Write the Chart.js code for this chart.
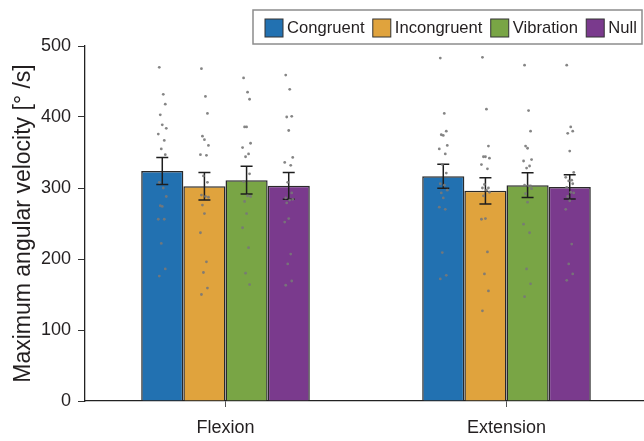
<!DOCTYPE html>
<html>
<head>
<meta charset="utf-8">
<script src="https://cdn.jsdelivr.net/npm/chart.js@4.4.1/dist/chart.umd.min.js"></script>
<style>
  html, body { margin: 0; padding: 0; background: #fff; overflow: hidden; }
  #wrap { position: relative; width: 648px; height: 441px; }
</style>
</head>
<body>
<div id="wrap"><canvas id="chart"></canvas></div>
<script>
// Movement directions on the x axis
const categories = ['Flexion', 'Extension'];
// Stimulation conditions
const conditions = ['Congruent', 'Incongruent', 'Vibration', 'Null'];

// Mean maximum angular velocity [°/s] per direction (Flexion, Extension)
const congruentMean   = [324, 316.5];
const incongruentMean = [302.5, 296];
const vibrationMean   = [311, 304];
const nullMean        = [303, 301.5];

// Standard error per direction
const congruentErr   = [19, 17];
const incongruentErr = [19.5, 18.5];
const vibrationErr   = [19.5, 17.5];
const nullErr        = [19, 17];

// Individual participants' values
const congruentFlexion = [470, 432, 418, 403, 389, 384, 376, 367, 355, 347, 308, 300, 288, 275, 274, 256, 256, 222, 186, 176];
const incongruentFlexion = [468, 429, 405, 373, 368, 360, 347, 346, 317, 308, 290, 288, 287, 276, 264, 237, 196, 181, 159, 150];
const vibrationFlexion = [455, 435, 425, 386, 386, 363, 357, 348, 344, 320, 309, 289, 288, 281, 264, 244, 216, 180, 164];
const nullFlexion = [459, 439, 401, 400, 381, 343, 336, 332, 308, 293, 286, 283, 284, 279, 257, 252, 207, 193, 169, 163];

const congruentExtension = [483, 405, 380, 375, 374, 360, 355, 348, 333, 321, 306, 304, 297, 293, 286, 273, 270, 209, 177, 172];
const incongruentExtension = [484, 411, 359, 344, 344, 342, 333, 327, 305, 300, 300, 297, 294, 289, 257, 256, 210, 179, 155, 127];
const vibrationExtension = [473, 409, 380, 359, 356, 340, 338, 331, 328, 303, 304, 303, 299, 292, 280, 249, 237, 186, 165, 147];
const nullExtension = [473, 386, 380, 377, 352, 322, 315, 311, 310, 306, 301, 294, 293, 288, 282, 270, 221, 193, 179, 170];

const seriesMeans = [congruentMean, incongruentMean, vibrationMean, nullMean];
const seriesErrs  = [congruentErr, incongruentErr, vibrationErr, nullErr];
const seriesPoints = [
  [congruentFlexion, congruentExtension],
  [incongruentFlexion, incongruentExtension],
  [vibrationFlexion, vibrationExtension],
  [nullFlexion, nullExtension]
];

const colors = ['#2271b1', '#e0a33d', '#79a545', '#7a3a8d'];
const FONT = '"Liberation Sans", Arial, sans-serif';
const TEXT = '#231f20';

// fixed horizontal spread (px) of the participant dots around a bar centre
const spread = [-3, 1, 3, -2, 0, 4, -4, 2, -1, 3, -3, 1, 4, -2, 0, -4, 2, -1, 3, -3];

const errorBarsAndDots = {
  id: 'errorBarsAndDots',
  afterDatasetsDraw(chart) {
    const { ctx, scales: { y } } = chart;
    ctx.save();
    chart.data.datasets.forEach((ds, d) => {
      const meta = chart.getDatasetMeta(d);
      meta.data.forEach((bar, i) => {
        const m = seriesMeans[d][i], e = seriesErrs[d][i];
        const top = y.getPixelForValue(m + e), bot = y.getPixelForValue(m - e);
        ctx.strokeStyle = '#1e1e1e';
        ctx.lineWidth = 1.5;
        ctx.beginPath();
        ctx.moveTo(bar.x, top); ctx.lineTo(bar.x, bot);
        ctx.moveTo(bar.x - 6, top); ctx.lineTo(bar.x + 6, top);
        ctx.moveTo(bar.x - 6, bot); ctx.lineTo(bar.x + 6, bot);
        ctx.stroke();
        ctx.fillStyle = 'rgba(120,120,120,0.9)';
        seriesPoints[d][i].forEach((v, j) => {
          ctx.beginPath();
          ctx.arc(bar.x + spread[j % spread.length], y.getPixelForValue(v), 1.4, 0, Math.PI * 2);
          ctx.fill();
        });
      });
    });
    ctx.restore();
  }
};

const boxedLegend = {
  id: 'boxedLegend',
  afterDraw(chart) {
    const { ctx } = chart;
    ctx.save();
    ctx.fillStyle = '#fff';
    ctx.strokeStyle = '#8c8c8c';
    ctx.lineWidth = 1.5;
    ctx.fillRect(253, 10, 389, 34);
    ctx.strokeRect(253, 10, 389, 34);
    ctx.font = '16.6px ' + FONT;
    ctx.textBaseline = 'middle';
    let x = 265;
    chart.data.datasets.forEach((ds) => {
      ctx.fillStyle = ds.backgroundColor;
      ctx.fillRect(x, 19, 18, 18);
      ctx.strokeStyle = '#333';
      ctx.lineWidth = 1;
      ctx.strokeRect(x, 19, 18, 18);
      ctx.fillStyle = TEXT;
      ctx.fillText(ds.label, x + 22, 28);
      x += 22 + ctx.measureText(ds.label).width + 8.3;
    });
    ctx.restore();
  }
};

new Chart(document.getElementById('chart'), {
  type: 'bar',
  data: {
    labels: categories,
    datasets: conditions.map((c, k) => ({
      label: c,
      data: seriesMeans[k],
      backgroundColor: colors[k],
      borderColor: '#2a2a2a',
      borderWidth: 1.5,
      categoryPercentage: 0.6,
      barPercentage: 1.0
    }))
  },
  options: {
    responsive: true,
    maintainAspectRatio: false,
    animation: false,
    layout: { padding: { top: 46, right: 1, bottom: 0, left: 0 } },
    plugins: { legend: { display: false }, tooltip: { enabled: false } },
    scales: {
      x: {
        grid: { display: true, drawOnChartArea: false, offset: false, tickLength: 6, color: '#555' },
        border: { display: true, color: '#222', width: 1.3 },
        ticks: { font: { family: FONT, size: 18 }, color: TEXT, padding: 10 },
        afterFit(scale) { scale.height = 40; }
      },
      y: {
        min: 0, max: 500,
        grid: { display: true, drawOnChartArea: false, tickLength: 7, color: '#333' },
        border: { display: true, color: '#222', width: 1.3 },
        ticks: { stepSize: 100, font: { family: FONT, size: 18 }, color: TEXT, padding: 7 },
        title: {
          display: true,
          text: 'Maximum angular velocity [° /s]',
          font: { family: FONT, size: 23 },
          color: TEXT,
          padding: { top: 10, bottom: 0 }
        },
        afterFit(scale) { scale.width = 85; }
      }
    }
  },
  plugins: [errorBarsAndDots, boxedLegend]
});
</script>
</body>
</html>
